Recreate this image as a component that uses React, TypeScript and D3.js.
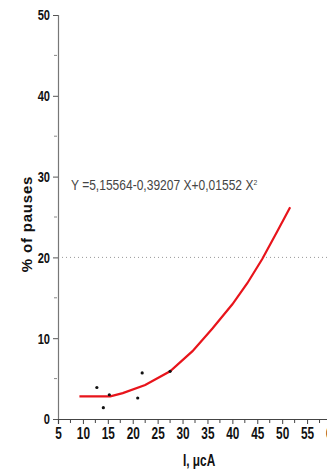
import React, { useEffect, useRef } from 'react';
import * as d3 from 'd3';

// measured pauses
const pointX = [12.8, 14.1, 15.3, 21.0, 21.9, 27.5];
const pointY = [3.9, 1.4, 3.0, 2.6, 5.7, 5.9];

// fitted curve
const fitX = [9.3, 15.5, 18, 22.5, 27.5, 32, 36, 40, 43, 46, 49, 51.6];
const fitY = [2.8, 2.8, 3.2, 4.2, 5.9, 8.4, 11.2, 14.2, 16.8, 19.8, 23.2, 26.2];

const xTicks = [5, 10, 15, 20, 25, 30, 35, 40, 45, 50, 55, 60];
const yTicks = [0, 10, 20, 30, 40, 50];
const refLevel = 20;

const W = 327;
const H = 470;
const NARROW = 0.74; // squeeze to mimic a condensed face

const App = () => {
  const ref = useRef<SVGSVGElement | null>(null);

  useEffect(() => {
    if (!ref.current) return;
    const svg = d3.select(ref.current);
    svg.selectAll('*').remove();

    const x = d3.scaleLinear().domain([5, 60]).range([58, 332]);
    const y = d3.scaleLinear().domain([0, 50]).range([419, 15]);
    const tickFont = '"Liberation Sans", Arial, sans-serif';

    // reference line at 20%
    svg.append('line')
      .attr('x1', x(5)).attr('x2', W)
      .attr('y1', y(refLevel)).attr('y2', y(refLevel))
      .attr('stroke', '#999')
      .attr('stroke-width', 1)
      .attr('stroke-dasharray', '1,3');

    // Y axis
    const yAxis = svg.append('g')
      .attr('transform', `translate(${x(5)},0)`)
      .call(d3.axisLeft(y).tickValues(yTicks).tickSize(5).tickPadding(2).tickFormat(d3.format('d')))
      .call(g => g.select('.domain').attr('stroke', '#777').attr('stroke-width', 1.2))
      .call(g => g.selectAll('.tick line').attr('stroke', '#555'))
      .call(g => g.selectAll('.tick text')
        .attr('x', -8 / NARROW)
        .attr('transform', `scale(${NARROW},1)`)
        .style('font-family', tickFont)
        .style('font-weight', 'bold')
        .style('font-size', '15px')
        .attr('fill', '#111'));
    yAxis.selectAll('.minor')
      .data(d3.range(5, 50, 10))
      .enter().append('line')
      .attr('class', 'minor')
      .attr('x1', -4).attr('x2', -1)
      .attr('y1', d => y(d)).attr('y2', d => y(d))
      .attr('stroke', '#888');

    // X axis
    const xAxis = svg.append('g')
      .attr('transform', `translate(0,${y(0)})`)
      .call(d3.axisBottom(x).tickValues(xTicks).tickSize(5).tickPadding(4).tickFormat(d3.format('d')))
      .call(g => g.select('.domain').attr('stroke', '#444').attr('stroke-width', 1.2))
      .call(g => g.selectAll('.tick line').attr('stroke', '#444'))
      .call(g => g.selectAll('.tick text')
        .attr('transform', `scale(${NARROW},1)`)
        .style('font-family', tickFont)
        .style('font-weight', 'bold')
        .style('font-size', '16px')
        .attr('fill', '#111'));
    xAxis.selectAll('.minor')
      .data(d3.range(7.5, 60, 5))
      .enter().append('line')
      .attr('class', 'minor')
      .attr('x1', d => x(d)).attr('x2', d => x(d))
      .attr('y1', 0).attr('y2', 4)
      .attr('stroke', '#444');

    // axis titles
    svg.append('text')
      .attr('transform', `translate(183,466) scale(${NARROW},1)`)
      .style('font-family', tickFont)
      .style('font-weight', 'bold')
      .style('font-size', '16px')
      .attr('fill', '#111')
      .text('I, \u03bccA');

    svg.append('text')
      .attr('transform', `translate(32,224) rotate(-90)`)
      .attr('text-anchor', 'middle')
      .style('font-family', tickFont)
      .style('font-weight', 'bold')
      .style('font-size', '15px')
      .style('letter-spacing', '0.8px')
      .attr('fill', '#111')
      .text('% of pauses');

    // equation
    const eq = svg.append('text')
      .attr('transform', `translate(71,190) scale(0.86,1)`)
      .style('font-family', tickFont)
      .style('font-size', '14px')
      .attr('fill', '#444');
    eq.append('tspan').text('Y =5,15564-0,39207 X+0,01552 X');
    eq.append('tspan').attr('dy', -5).style('font-size', '8px').text('2');

    // fitted curve
    const line = d3.line<number>()
      .x((d, i) => x(fitX[i]))
      .y(d => y(d));
    svg.append('path')
      .datum(fitY)
      .attr('fill', 'none')
      .attr('stroke', '#e8141b')
      .attr('stroke-width', 2.2)
      .attr('d', line);

    // points
    svg.selectAll('.pt')
      .data(pointY)
      .enter().append('circle')
      .attr('class', 'pt')
      .attr('cx', (d, i) => x(pointX[i]))
      .attr('cy', d => y(d))
      .attr('r', 1.6)
      .attr('fill', '#111');
  }, []);

  return (
    <svg
      ref={ref}
      width={W}
      height={H}
      style={{ position: 'absolute', left: 0, top: 0, background: '#fff' }}
    />
  );
};

export default App;
